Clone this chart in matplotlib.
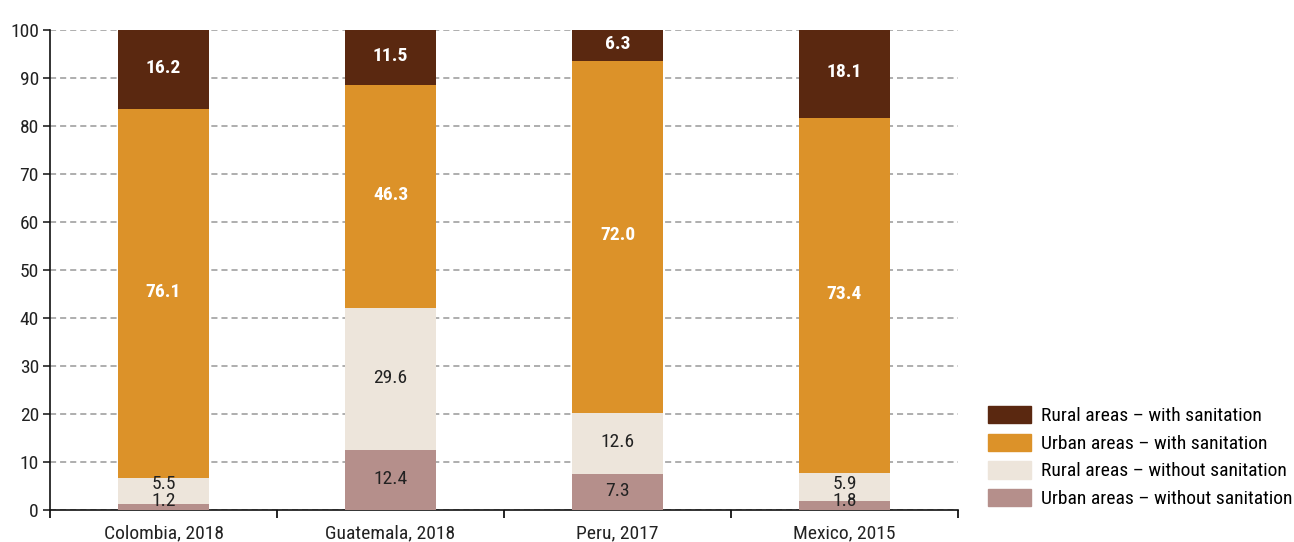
import matplotlib
matplotlib.use("Agg")
import matplotlib.pyplot as plt
import numpy as np
from matplotlib.patches import Patch

plt.rcParams['font.family'] = ['Roboto Condensed', 'DejaVu Sans']

categories = ["Colombia, 2018", "Guatemala, 2018", "Peru, 2017", "Mexico, 2015"]
urban_without = [1.2, 12.4, 7.3, 1.8]
rural_without = [5.5, 29.6, 12.6, 5.9]
urban_with = [76.1, 46.3, 72.0, 73.4]
rural_with = [16.2, 11.5, 6.3, 18.1]

series = [
    ("Urban areas \u2013 without sanitation", urban_without, "#B58F8B", "#222222", "normal"),
    ("Rural areas \u2013 without sanitation", rural_without, "#EDE5DB", "#222222", "normal"),
    ("Urban areas \u2013 with sanitation", urban_with, "#DC9229", "white", "bold"),
    ("Rural areas \u2013 with sanitation", rural_with, "#5A2810", "white", "bold"),
]

fig = plt.figure(figsize=(12.94, 5.42), dpi=100)
ax = fig.add_axes([50/1294, 32/542, 908/1294, 480/542])

x = np.arange(len(categories))
totals = np.sum([s[1] for s in series], axis=0)
bottom = np.zeros(len(categories))
prev_y = np.full(len(categories), -10.0)
for name, vals, color, tcol, weight in series:
    v = np.array(vals)
    h = v / totals * 100
    ax.bar(x, h, 0.4, bottom=bottom, color=color, zorder=3, label=name)
    for i in range(len(x)):
        y = bottom[i] + h[i] / 2
        if h[i] < 3:
            y = max(y, 1.6)
        y = max(y, prev_y[i] + 3.5)
        prev_y[i] = y
        ax.text(x[i], y + 0.3, f"{v[i]:.1f}", ha="center", va="center",
                color=tcol, fontweight=weight, fontsize=14, zorder=4)
    bottom += h

ax.set_xlim(-0.5, 3.5)
ax.set_ylim(0, 100)
ax.set_yticks(np.arange(0, 101, 10))
ax.tick_params(axis='y', labelsize=14, length=5, width=1.2, colors='#222222', pad=3)
ax.set_xticks(x)
ax.set_xticklabels(categories, fontsize=14, color='#222222')
ax.tick_params(axis='x', length=0, pad=10)
ax.set_xticks(np.arange(-0.5, 4, 1), minor=True)
ax.tick_params(axis='x', which='minor', length=6, width=1.2, direction='out')
ax.grid(axis='y', linestyle=(0, (4, 2.6)), color='#999999', linewidth=1.1, zorder=0)
for s in ['top', 'right']:
    ax.spines[s].set_visible(False)
for s in ['left', 'bottom']:
    ax.spines[s].set_linewidth(1.2)
    ax.spines[s].set_color('#111111')

handles = [Patch(color=c, label=n) for n, v, c, t, w in series][::-1]
fig.legend(handles=handles, loc='lower left', bbox_to_anchor=(988/1294, 34/542),
           frameon=False, fontsize=14, handlelength=2.2, handleheight=1.0,
           handletextpad=0.55, labelspacing=0.42, borderaxespad=0, borderpad=0)

fig.savefig("out.png", dpi=100)
